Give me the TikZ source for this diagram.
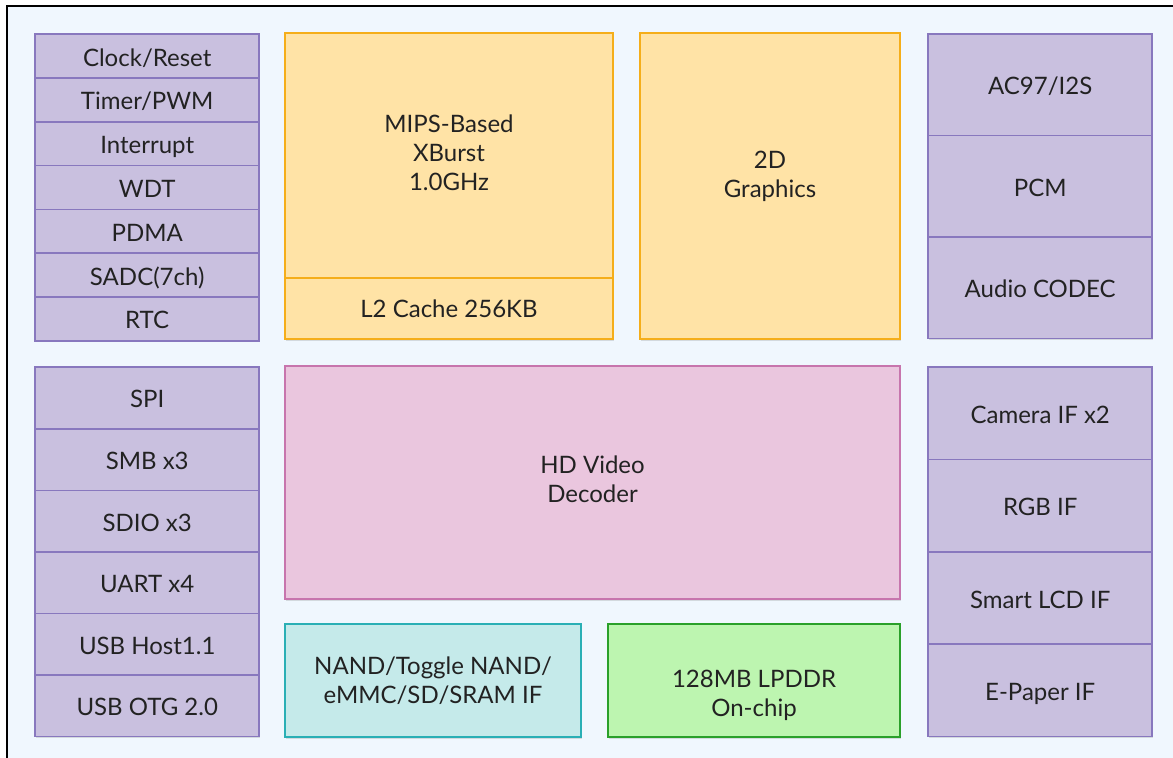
\documentclass[tikz,border=0pt]{standalone}
\usepackage{fontspec}
\setmainfont{Lato}
\usetikzlibrary{matrix,positioning,shadows}
\definecolor{mybg}{RGB}{240,247,254}
\definecolor{mypurple}{RGB}{201,192,223}
\definecolor{mypurpleline}{RGB}{136,120,190}
\definecolor{myyellow}{RGB}{255,227,166}
\definecolor{myyellowline}{RGB}{245,174,26}
\definecolor{mypink}{RGB}{234,198,222}
\definecolor{mypinkline}{RGB}{199,117,173}
\definecolor{mycyan}{RGB}{197,234,234}
\definecolor{mycyanline}{RGB}{42,175,181}
\definecolor{mygreen}{RGB}{189,245,176}
\definecolor{mygreenline}{RGB}{42,160,42}
\definecolor{mytext}{RGB}{34,34,34}

\begin{document}
\begin{tikzpicture}[x=0.5pt,y=-0.5pt,
  font=\fontsize{12}{14.5}\selectfont,text=mytext,
  blk/.style={draw,line width=0.8pt,align=center,outer sep=0pt,
    drop shadow={shadow xshift=0.6pt,shadow yshift=-0.8pt,opacity=0.25}},
  pmat/.style={matrix of nodes,inner sep=0pt,row sep=-0.8pt,anchor=north west,
    nodes={blk,fill=mypurple,draw=mypurpleline,minimum width=112pt,
      text height=10pt,text depth=0pt}},
  ysnode/.style={blk,fill=myyellow,draw=myyellowline},
  pknode/.style={blk,fill=mypink,draw=mypinkline},
  cynode/.style={blk,fill=mycyan,draw=mycyanline},
  grnode/.style={blk,fill=mygreen,draw=mygreenline}]

  \useasboundingbox (0,0) rectangle (1173,758);
  \clip (0,0) rectangle (1173,758);
  \fill[white] (0,0) rectangle (1173,758);
  \draw[line width=1.1pt,fill=mybg] (7,6) rectangle (1200,800);

  % peripheral columns
  \matrix[pmat,nodes={minimum height=21.9pt}] (lefttop) at (34,33)
    {Clock/Reset\\ Timer/PWM\\ Interrupt\\ WDT\\ PDMA\\ SADC(7ch)\\ RTC\\};
  \matrix[pmat,nodes={minimum height=30.78pt}] (leftbot) at (34,366)
    {SPI\\ SMB x3\\ SDIO x3\\ UART x4\\ USB Host1.1\\ USB OTG 2.0\\};
  \matrix[pmat,nodes={minimum height=50.73pt}] (righttop) at (927,33)
    {AC97/I2S\\ PCM\\ Audio CODEC\\};
  \matrix[pmat,nodes={minimum height=46.18pt}] (rightbot) at (927,366)
    {Camera IF x2\\ RGB IF\\ Smart LCD IF\\ E-Paper IF\\};

  % core blocks
  \node[ysnode,anchor=north west,minimum width=164pt,minimum height=122.5pt,text depth=3pt] (cpu) at (285,33)
    {MIPS-Based\\XBurst\\1.0GHz};
  \node[ysnode,below=0pt of cpu,minimum width=164pt,minimum height=30.5pt] (cache)
    {L2 Cache 256KB};
  \node[ysnode,anchor=north west,minimum width=130pt,minimum height=153pt,text depth=12pt] (gfx) at (640,33)
    {2D\\Graphics};

  \node[pknode,anchor=north west,minimum width=307.5pt,minimum height=116.5pt,text depth=3pt] (video) at (285,366)
    {HD Video\\Decoder};

  \node[cynode,anchor=north west,minimum width=148pt,minimum height=56.5pt] (nand) at (285,624)
    {NAND/Toggle NAND/\\eMMC/SD/SRAM IF};
  \node[grnode,anchor=north west,minimum width=146pt,minimum height=56.5pt,text height=38pt] (ddr) at (608,624)
    {128MB LPDDR\\On-chip};

\end{tikzpicture}
\end{document}
